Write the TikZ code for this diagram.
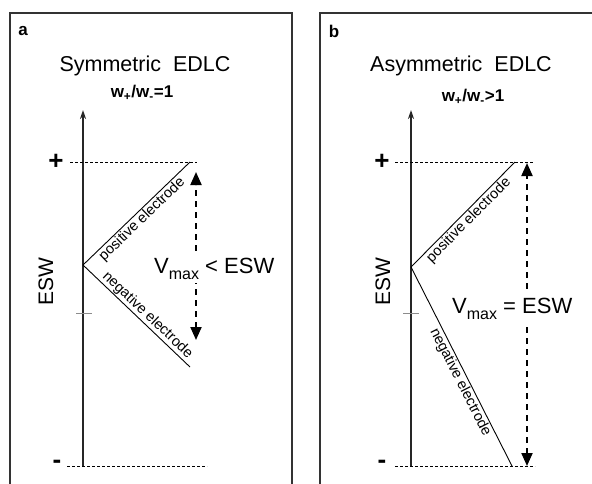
\documentclass[tikz,border=0pt]{standalone}
\usepackage{fontspec}
\setmainfont{Liberation Sans}
\usetikzlibrary{arrows.meta}
\newcommand{\fs}[1]{\fontsize{#1}{#1}\selectfont}
\newcommand{\vsub}{V{\fs{16}\raisebox{-6pt}{max}}}
\begin{document}
\begin{tikzpicture}[x=1pt,y=-1pt,
  panelbox/.style={draw=black!80, line width=1.4pt},
  axisline/.style={draw=black!85, line width=1.8pt, -{Stealth[length=9pt,width=6pt]}},
  levelline/.style={draw=black, line width=0.8pt, dash pattern=on 3pt off 2pt},
  tickmark/.style={draw=black!45, line width=0.9pt},
  electrode/.style={draw=black, line width=0.9pt},
  vmaxarrow/.style={draw=black, line width=2pt, dash pattern=on 6pt off 5pt,
     {Triangle[width=11pt,length=13pt]}-{Triangle[width=11pt,length=13pt]}},
  lbl/.style={font=\fs{14.5}, inner sep=1pt},
  title/.style={font=\fs{21.5}, inner sep=0pt},
  ratio/.style={font=\fs{17}\bfseries, inner sep=0pt},
  plate/.style={font=\fs{17}\bfseries, inner sep=0pt},
  sign/.style={font=\fs{26}\bfseries, inner sep=0pt},
  esw/.style={font=\fs{21}, rotate=90, inner sep=0pt},
  vmaxtext/.style={font=\fs{22}, fill=white, inner xsep=0pt, inner ysep=4pt, anchor=base west}
]
\useasboundingbox (0,0) rectangle (592,483);
\clip (0,0) rectangle (592,483);

% panel frames
\draw[panelbox] (10,500) -- (10,13) -- (292,13) -- (292,500);
\draw[panelbox] (320,500) -- (320,13) -- (610,13);

% ---------- panel a ----------
\node[plate] (la) at (23,31) {a};
\node[title] (ta) at (145,66) {Symmetric\ \ EDLC};
\node[ratio] (ra) at (142,93) {w\textsubscript{+}/w\textsubscript{-}=1};

\coordinate (aBot) at (83,466);
\coordinate (aTop) at (83,110);
\draw[axisline] (aBot) -- (aTop);

\node[sign] (aplus) at (56,162) {+};
\node[sign] (aminus) at (57,464) {-};
\coordinate (aTopStart) at (70,162);
\coordinate (aTopEnd) at (197,162);
\coordinate (aBotStart) at (67,466);
\coordinate (aBotEnd) at (207,466);
\draw[levelline] (aTopStart) -- (aTopEnd);
\draw[levelline] (aBotStart) -- (aBotEnd);

\coordinate (aTick1) at (76,313);
\coordinate (aTick2) at (92,313);
\draw[tickmark] (aTick1) -- (aTick2);

\node[esw] (aesw) at (46,282) {ESW};

\coordinate (aV) at (83,265);
\coordinate (aP) at (190,162);
\coordinate (aN) at (190,367);
\draw[electrode] (aV) -- node[lbl, sloped, below, pos=0.5] (apl) {positive electrode} (aP);
\draw[electrode] (aV) -- node[lbl, sloped, above, pos=0.55] (anl) {negative electrode} (aN);

\coordinate (aArrTop) at (196,172);
\coordinate (aArrBot) at (196,340);
\draw[vmaxarrow] (aArrBot) -- (aArrTop);
\node[vmaxtext] (avm) at (154,273) {\vsub{} < ESW};

% ---------- panel b ----------
\node[plate] (lb) at (334,31) {b};
\node[title] (tb) at (461,66) {Asymmetric\ \ EDLC};
\node[ratio] (rb) at (473,97) {w\textsubscript{+}/w\textsubscript{-}>1};

\coordinate (bBot) at (411,466);
\coordinate (bTop) at (411,110);
\draw[axisline] (bBot) -- (bTop);

\node[sign] (bplus) at (382,162) {+};
\node[sign] (bminus) at (382,464) {-};
\coordinate (bTopStart) at (395,162);
\coordinate (bTopEnd) at (533,162);
\coordinate (bBotStart) at (395,466);
\coordinate (bBotEnd) at (535,466);
\draw[levelline] (bTopStart) -- (bTopEnd);
\draw[levelline] (bBotStart) -- (bBotEnd);

\coordinate (bTick1) at (403,313);
\coordinate (bTick2) at (419,313);
\draw[tickmark] (bTick1) -- (bTick2);

\node[esw] (besw) at (383,282) {ESW};

\coordinate (bV) at (411,267);
\coordinate (bP) at (515,162);
\coordinate (bN) at (512,466);
\draw[electrode] (bV) -- node[lbl, sloped, below, pos=0.5] (bpl) {positive electrode} (bP);
\draw[electrode] (bV) -- node[lbl, sloped, below, pos=0.56] (bnl) {negative electrode} (bN);

\coordinate (bArrTop) at (527,163);
\coordinate (bArrBot) at (527,466);
\draw[vmaxarrow] (bArrBot) -- (bArrTop);
\node[vmaxtext] (bvm) at (452,313) {\vsub{} = ESW};
\end{tikzpicture}
\end{document}
